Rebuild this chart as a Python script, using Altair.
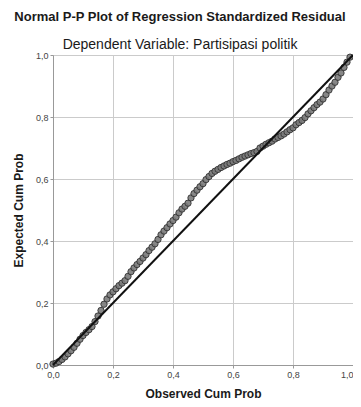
import altair as alt
import pandas as pd

obs = [0.00, 0.01, 0.02, 0.03, 0.04, 0.05, 0.06, 0.07, 0.08, 0.09,
       0.10, 0.11, 0.12, 0.13, 0.14, 0.15, 0.16, 0.17, 0.18, 0.19,
       0.20, 0.21, 0.22, 0.23, 0.24, 0.25, 0.26, 0.27, 0.28, 0.29,
       0.30, 0.31, 0.32, 0.33, 0.34, 0.35, 0.36, 0.37, 0.38, 0.39,
       0.40, 0.41, 0.42, 0.43, 0.44, 0.45, 0.46, 0.47, 0.48, 0.49,
       0.50, 0.51, 0.52, 0.53, 0.54, 0.55, 0.56, 0.57, 0.58, 0.59,
       0.60, 0.61, 0.62, 0.63, 0.64, 0.65, 0.66, 0.67, 0.68, 0.69,
       0.70, 0.71, 0.72, 0.73, 0.74, 0.75, 0.76, 0.77, 0.78, 0.79,
       0.80, 0.81, 0.82, 0.83, 0.84, 0.85, 0.86, 0.87, 0.88, 0.89,
       0.90, 0.91, 0.92, 0.93, 0.94, 0.95, 0.96, 0.97, 0.98, 0.99]
expected = [0.003, 0.006, 0.011, 0.018, 0.026, 0.036, 0.046, 0.057, 0.070, 0.083,
            0.095, 0.105, 0.114, 0.124, 0.140, 0.158, 0.176, 0.196, 0.213, 0.226,
            0.236, 0.246, 0.256, 0.264, 0.272, 0.286, 0.301, 0.313, 0.324, 0.334,
            0.345, 0.356, 0.369, 0.380, 0.391, 0.405, 0.420, 0.432, 0.443, 0.455,
            0.466, 0.477, 0.491, 0.503, 0.512, 0.522, 0.539, 0.553, 0.564, 0.575,
            0.585, 0.598, 0.608, 0.618, 0.625, 0.631, 0.637, 0.642, 0.647, 0.651,
            0.656, 0.660, 0.665, 0.670, 0.674, 0.678, 0.682, 0.685, 0.689, 0.700,
            0.706, 0.712, 0.717, 0.722, 0.729, 0.734, 0.739, 0.745, 0.752, 0.759,
            0.765, 0.775, 0.782, 0.789, 0.798, 0.810, 0.820, 0.830, 0.840, 0.848,
            0.858, 0.872, 0.887, 0.900, 0.912, 0.928, 0.942, 0.960, 0.977, 0.993]

ref_x = [0.0, 1.0]
ref_y = [0.0, 1.0]
ticks = [0.0, 0.2, 0.4, 0.6, 0.8, 1.0]

FONT = "Liberation Sans"
label_expr = "replace(format(datum.value, '.1f'), '.', ',')"

pts = pd.DataFrame({"obs": obs, "exp": expected})
ref = pd.DataFrame({"x": ref_x, "y": ref_y})

xscale = alt.Scale(domain=[0, 1], nice=False, zero=False)
yscale = alt.Scale(domain=[0, 1], nice=False, zero=False)

common = dict(values=ticks, labelExpr=label_expr, grid=True, gridColor="#cbcbcb",
              domainColor="#999999", tickColor="#999999", tickSize=3,
              labelFont=FONT, labelFontSize=9, labelColor="#444444", labelPadding=2,
              titleFont=FONT, titleFontSize=12, titleFontWeight="bold",
              titleColor="#1a1a1a", labelFlush=False)
xaxis = alt.Axis(title="Observed Cum Prob", titlePadding=9,
                 labelAlign={"condition": {"test": "datum.value >= 1", "value": "right"},
                             "value": "center"},
                 **common)
yaxis = alt.Axis(title="Expected Cum Prob", titlePadding=10, **common)

points = alt.Chart(pts).mark_point(
    shape="circle", filled=True, size=40, fill="#7a7a7a", fillOpacity=0.9,
    stroke="#333333", strokeWidth=0.9
).encode(
    x=alt.X("obs:Q", scale=xscale, axis=xaxis),
    y=alt.Y("exp:Q", scale=yscale, axis=yaxis),
)

line = alt.Chart(ref).mark_line(color="#111111", strokeWidth=2).encode(
    x=alt.X("x:Q", scale=xscale),
    y=alt.Y("y:Q", scale=yscale),
)

chart = alt.layer(points, line).properties(
    width=300,
    height=310,
    padding={"left": 45, "top": 47, "right": 0, "bottom": 34},
    autosize=alt.AutoSizeParams(type="none"),
    title=alt.TitleParams(
        text="Normal P-P Plot of Regression Standardized Residual",
        subtitle="Dependent Variable: Partisipasi politik",
        font=FONT, fontSize=13, fontWeight="bold", color="#1a1a1a",
        subtitleFont=FONT, subtitleFontSize=14, subtitleColor="#1a1a1a",
        subtitlePadding=14, anchor="middle", dx=-23, offset=-1,
    ),
).configure_view(strokeWidth=0)

chart.save("out.html", embed_options={"renderer": "svg", "actions": False})
